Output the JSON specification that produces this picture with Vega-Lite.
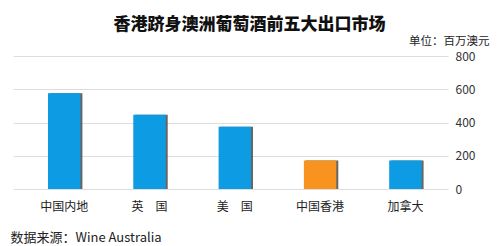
{
  "$schema": "https://vega.github.io/schema/vega-lite/v6.json",
  "autosize": "none",
  "width": 435,
  "height": 133,
  "padding": {"left": 13, "top": 56, "right": 52, "bottom": 57},
  "background": "white",
  "config": {
    "view": {"stroke": null},
    "font": "Noto Sans CJK SC"
  },
  "title": {
    "text": "香港跻身澳洲葡萄酒前五大出口市场",
    "anchor": "middle",
    "dx": 19,
    "dy": 7,
    "fontSize": 17,
    "fontWeight": 900,
    "color": "#111",
    "offset": 8
  },
  "data": {
    "values": [
      {"market": "中国内地", "value": 576, "hk": "no"},
      {"market": "英　国", "value": 447, "hk": "no"},
      {"market": "美　国", "value": 374, "hk": "no"},
      {"market": "中国香港", "value": 171, "hk": "yes"},
      {"market": "加拿大", "value": 171, "hk": "no"}
    ]
  },
  "encoding": {
    "x": {
      "field": "market",
      "type": "nominal",
      "sort": null,
      "scale": {"paddingInner": 0.62, "paddingOuter": 0.36, "align": 0.57},
      "axis": {
        "title": "数据来源：Wine Australia",
        "titleAnchor": "start",
        "titleAlign": "left",
        "titleX": -3,
        "titleY": 48,
        "titleBaseline": "middle",
        "titleFontSize": 13,
        "titleFontWeight": "normal",
        "titleColor": "#222",
        "labelAngle": 0,
        "labelFontSize": 12,
        "labelColor": "#222",
        "labelPadding": 12,
        "domain": false,
        "ticks": false
      }
    },
    "y": {
      "field": "value",
      "type": "quantitative",
      "scale": {"domain": [0, 800]},
      "axis": {
        "orient": "right",
        "values": [0, 200, 400, 600, 800],
        "title": "单位：百万澳元",
        "titleAngle": 0,
        "titleAlign": "right",
        "titleBaseline": "middle",
        "titleX": 41,
        "titleY": -15,
        "titleFontSize": 11.5,
        "titleFontWeight": "normal",
        "titleColor": "#222",
        "labelFontSize": 12,
        "labelColor": "#333",
        "labelPadding": 7,
        "domain": false,
        "ticks": false,
        "grid": true,
        "gridColor": "#dddddd",
        "gridWidth": 1
      }
    }
  },
  "layer": [
    {
      "mark": {"type": "bar", "color": "#333", "opacity": 0.75, "xOffset": 2},
      "encoding": {}
    },
    {
      "mark": {"type": "bar"},
      "encoding": {
        "color": {
          "field": "hk",
          "type": "nominal",
          "scale": {"domain": ["no", "yes"], "range": ["#0d9be3", "#f7931e"]},
          "legend": null
        }
      }
    }
  ]
}
